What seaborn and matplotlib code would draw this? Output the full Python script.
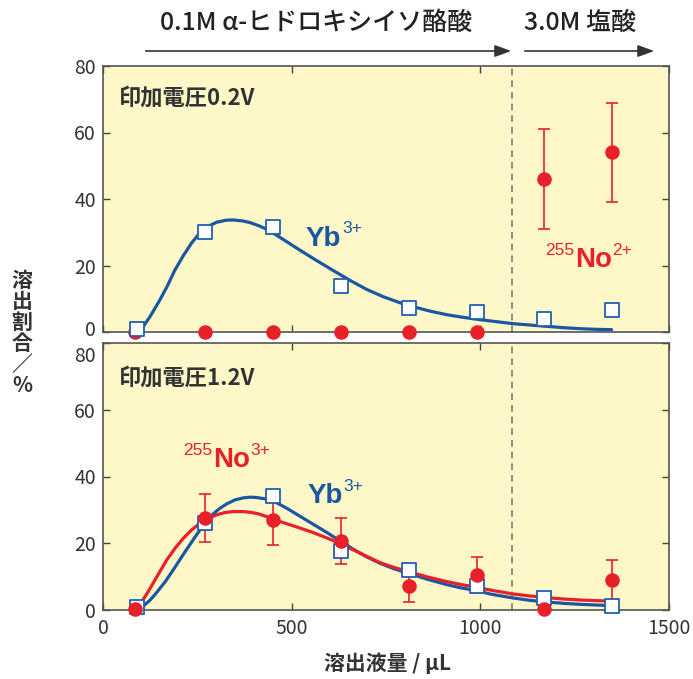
import matplotlib
matplotlib.use("Agg")
import numpy as np
import pandas as pd
import seaborn as sns
import matplotlib.pyplot as plt
from matplotlib.patches import FancyArrowPatch
from matplotlib.transforms import offset_copy, ScaledTranslation

sns.set_style("ticks")
plt.rcParams["font.family"] = ["Noto Sans CJK JP", "DejaVu Sans"]

# ---------------- data ----------------
x_frac = [90, 270, 450, 630, 810, 990, 1170, 1350]          # fraction positions (µL)
x_no = [84, 270, 450, 630, 810, 990, 1170, 1350]

# 0.2 V panel
yb_02 = [0.8, 30.2, 31.5, 13.8, 7.2, 6.1, 3.8, 6.6]
no_02 = [0, 0, 0, 0, 0, 0, 46.0, 54.0]
no_02_err = [0, 0, 0, 0, 0, 0, 15.0, 15.0]

yb_02_curve_x = [90, 107, 125, 150, 169, 190, 213, 235, 255, 275, 301, 325, 345, 370,
                 390, 412, 434, 456, 478, 522, 566, 610, 655, 699, 743, 787, 822, 866,
                 911, 955, 999, 1043, 1087, 1131, 1176, 1220, 1264, 1306, 1348]
yb_02_curve_y = [0.0, 1.7, 4.7, 9.5, 13.5, 18.5, 23.0, 26.8, 29.6, 31.6, 33.0, 33.6, 33.7, 33.4,
                 32.9, 32.0, 30.9, 29.4, 27.8, 24.6, 21.5, 18.5, 15.5, 12.8, 10.6, 8.8, 7.6, 6.3,
                 5.2, 4.4, 3.7, 3.1, 2.5, 2.1, 1.7, 1.3, 1.0, 0.8, 0.7]

# 1.2 V panel
yb_12 = [1.0, 26.0, 34.3, 17.8, 12.0, 7.3, 3.5, 1.3]
no_12 = [0.3, 27.6, 26.9, 20.7, 7.2, 10.5, 0.3, 9.0]
no_12_err = [0, 7.3, 7.5, 7.0, 4.9, 5.4, 0, 6.0]

yb_12_curve_x = [93, 107, 125, 142, 165, 186, 205, 222, 240, 257, 275, 292, 310, 328,
                 350, 372, 390, 407, 430, 451, 469, 490, 513, 535, 557, 595, 631, 665,
                 699, 734, 770, 809, 860, 911, 950, 981, 1030, 1087, 1131, 1176, 1220,
                 1264, 1306, 1348]
yb_12_curve_y = [0.5, 1.2, 3.0, 5.2, 8.5, 12.0, 15.3, 18.2, 21.2, 24.0, 26.7, 28.8, 30.5, 31.8,
                 33.0, 33.6, 33.8, 33.7, 33.3, 32.6, 31.6, 30.3, 28.7, 27.2, 25.7, 23.1, 20.5, 18.1,
                 15.9, 14.0, 12.4, 11.0, 9.2, 7.6, 6.6, 6.0, 4.7, 3.6, 2.9, 2.4, 2.0,
                 1.7, 1.5, 1.3]
no_12_curve_x = [89, 107, 125, 147, 169, 191, 213, 235, 257, 280, 301, 323, 345, 368,
                 390, 412, 434, 450, 469, 513, 557, 595, 631, 680, 734, 770, 809, 860,
                 911, 950, 981, 1030, 1087, 1131, 1176, 1220, 1264, 1306, 1348]
no_12_curve_y = [0.3, 3.2, 6.5, 10.8, 15.0, 18.5, 21.5, 24.0, 26.0, 27.5, 28.5, 29.2, 29.5, 29.5,
                 29.3, 28.8, 28.0, 27.2, 26.5, 24.9, 23.2, 21.5, 19.8, 17.1, 14.2, 12.8, 11.5, 9.9,
                 8.5, 7.6, 7.0, 5.9, 4.8, 4.2, 3.7, 3.3, 3.0, 2.8, 2.7]

acid_boundary = 1085
x_ticks = [0, 500, 1000, 1500]
y_ticks = [0, 20, 40, 60, 80]

# ---------------- style ----------------
BLUE = "#1B56A3"
BLUE_EDGE = "#2160AE"
RED = "#E8202A"
BG = "#FEF8C9"
TXT = "#333333"

W, H = 693, 679
fig = plt.figure(figsize=(W / 100, H / 100), dpi=100)
ax1 = fig.add_axes([103 / W, 1 - 332 / H, 566 / W, 266 / H])
ax2 = fig.add_axes([103 / W, 1 - 610 / H, 566 / W, 267 / H])


def style_axes(ax, show_x):
    ax.set_facecolor(BG)
    ax.set_xlim(0, 1500)
    ax.set_ylim(0, 80)
    ax.set_xticks(x_ticks)
    ax.set_yticks(y_ticks)
    ax.tick_params(direction="in", length=5, width=1, top=True, right=True,
                   labelsize=14, labelcolor=TXT, color="#444444",
                   labelbottom=show_x, pad=6)
    ax.tick_params(axis="y", pad=5)
    for s in ax.spines.values():
        s.set_color("#555555")
        s.set_linewidth(1.2)
        s.set_visible(True)
    ax.set_xlabel("")
    ax.set_ylabel("")
    ax.axvline(acid_boundary, color="#7a7a7a", lw=1.2, ls=(0, (4, 3)), zorder=1)


def chem(ax, x, y, parts, color):
    r = fig.canvas.get_renderer()
    dx = 0.0
    for txt, size, rise, bold in parts:
        tr = offset_copy(ax.transData, fig=fig, x=dx, y=rise, units="points")
        t = ax.text(x, y, txt, transform=tr, fontsize=size,
                    fontweight="bold" if bold else "normal", color=color,
                    ha="left", va="baseline",
                    family=["Liberation Sans", "DejaVu Sans"], zorder=6)
        bb = t.get_window_extent(renderer=r)
        dx += bb.width * 72 / fig.dpi + 0.5


def unclip_last(ax):
    ax.collections[-1].set_clip_on(False)


def shift_ylabel(ax, idx, dy_px):
    tick = ax.yaxis.get_major_ticks()[idx]
    lab = tick.label1
    lab.set_transform(lab.get_transform() + ScaledTranslation(0, dy_px / 100, fig.dpi_scale_trans))


# ---------------- top panel (0.2 V) ----------------
style_axes(ax1, False)
sns.lineplot(x=yb_02_curve_x, y=yb_02_curve_y, sort=False, estimator=None,
             color=BLUE, lw=2.3, ax=ax1, zorder=2)
ex = [a for a, e in zip(x_no, no_02_err) if e > 0]
ey = [a for a, e in zip(no_02, no_02_err) if e > 0]
ee = [e for e in no_02_err if e > 0]
ax1.errorbar(ex, ey, yerr=ee, fmt="none", ecolor=RED, elinewidth=1.2,
             capsize=4, capthick=1.2, zorder=3)
sns.scatterplot(x=x_no, y=no_02, marker="o", s=110, color=RED, edgecolor=RED,
                linewidth=0, ax=ax1, zorder=4)
unclip_last(ax1)
sns.scatterplot(x=x_frac, y=yb_02, marker="s", s=115, color="white",
                edgecolor=BLUE_EDGE, linewidth=1.3, ax=ax1, zorder=5)
unclip_last(ax1)
ax1.text(42, 70.4, "印加電圧0.2V", fontsize=16, fontweight="bold", color=TXT,
         ha="left", va="center")

# ---------------- bottom panel (1.2 V) ----------------
style_axes(ax2, True)
sns.lineplot(x=yb_12_curve_x, y=yb_12_curve_y, sort=False, estimator=None,
             color=BLUE, lw=2.3, ax=ax2, zorder=2)
sns.lineplot(x=no_12_curve_x, y=no_12_curve_y, sort=False, estimator=None,
             color=RED, lw=2.3, ax=ax2, zorder=2.5)
ex = [a for a, e in zip(x_no, no_12_err) if e > 0]
ey = [a for a, e in zip(no_12, no_12_err) if e > 0]
ee = [e for e in no_12_err if e > 0]
ax2.errorbar(ex, ey, yerr=ee, fmt="none", ecolor=RED, elinewidth=1.2,
             capsize=4, capthick=1.2, zorder=3)
sns.scatterplot(x=x_frac, y=yb_12, marker="s", s=115, color="white",
                edgecolor=BLUE_EDGE, linewidth=1.3, ax=ax2, zorder=4)
unclip_last(ax2)
sns.scatterplot(x=x_no, y=no_12, marker="o", s=110, color=RED, edgecolor=RED,
                linewidth=0, ax=ax2, zorder=5)
unclip_last(ax2)
ax2.text(42, 69.6, "印加電圧1.2V", fontsize=16, fontweight="bold", color=TXT,
         ha="left", va="center")

# keep the two adjacent tick labels apart (as in the reference)
shift_ylabel(ax1, 0, 4)
shift_ylabel(ax2, 4, -11)

# species labels
chem(ax1, 538, 26.0, [("Yb", 20, 0, True), ("3+", 12.5, 9, False)], BLUE)
chem(ax1, 1171, 19.5, [("255", 12.5, 9, False), ("No", 20, 0, True), ("2+", 12.5, 9, False)], RED)
chem(ax2, 212, 42.7, [("255", 12.5, 9, False), ("No", 20, 0, True), ("3+", 12.5, 9, False)], RED)
chem(ax2, 541, 32.0, [("Yb", 20, 0, True), ("3+", 12.5, 9, False)], BLUE)

# ---------------- header arrows ----------------
ya = 1 - 51 / H
for x0, x1 in [(143, 514), (522, 657)]:
    fig.add_artist(FancyArrowPatch((x0 / W, ya), (x1 / W, ya), transform=fig.transFigure,
                                   arrowstyle="-|>,head_length=0.55,head_width=0.2",
                                   mutation_scale=18, lw=1.2, color="#333333"))
fig.text(316 / W, 1 - 23 / H, "0.1M α-ヒドロキシイソ酪酸", fontsize=18, color="#222222",
         ha="center", va="center", fontweight="medium")
fig.text(580 / W, 1 - 23 / H, "3.0M 塩酸", fontsize=18, color="#222222",
         ha="center", va="center", fontweight="medium")

# axis labels
fig.text(388 / W, 1 - 663 / H, "溶出液量 / μL", fontsize=15, fontweight="bold",
         color=TXT, ha="center", va="center")
fig.text(22 / W, 1 - 333 / H, "溶\n出\n割\n合\n／\n%", fontsize=15, fontweight="bold",
         color=TXT, ha="center", va="center", linespacing=1.0)

fig.savefig("out.png", dpi=100)
